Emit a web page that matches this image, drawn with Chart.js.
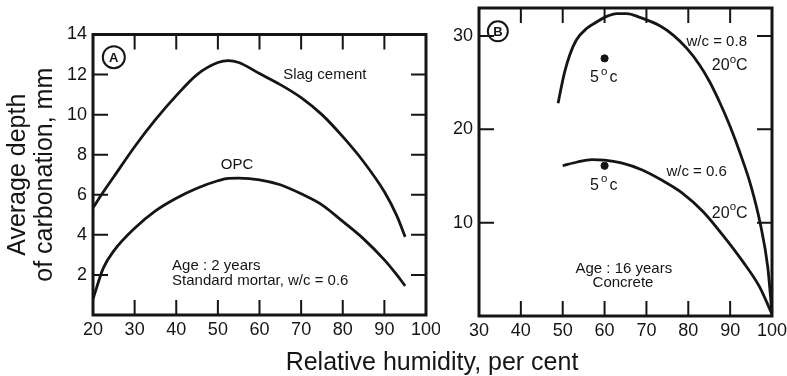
<!DOCTYPE html>
<html>
<head>
<meta charset="utf-8">
<title>Carbonation depth vs relative humidity</title>
<script src="https://cdn.jsdelivr.net/npm/chart.js@4.4.0/dist/chart.umd.min.js"></script>
<style>
  body { margin: 0; background: #fff; width: 787px; height: 376px; position: relative; overflow: hidden; }
  #wrapA { position: absolute; left: 0; top: 0; width: 440px; height: 376px; }
  #wrapB { position: absolute; left: 430px; top: 0; width: 357px; height: 376px; }
  #xtitle { position: absolute; left: 232px; width: 400px; top: 349px; line-height: 25px;
            text-align: center; font-size: 25px; font-family: 'Liberation Sans', Arial, sans-serif; color: #151515; }
</style>
</head>
<body>
<div id="wrapA"><canvas id="chartA" width="440" height="376"></canvas></div>
<div id="wrapB"><canvas id="chartB" width="357" height="376"></canvas></div>
<div id="xtitle">Relative humidity, per cent</div>
<script>
// Panel A - standard mortar, age 2 years
const humidityA = [20, 22.5, 25, 30, 35, 40, 45, 50, 52.5, 55, 60, 65, 70, 75, 80, 85, 90, 93, 95];
const slagDepth = [5.35, 6.15, 6.9, 8.4, 9.75, 10.95, 12.0, 12.6, 12.7, 12.6, 12.05, 11.5, 10.85, 10.0, 8.9, 7.65, 6.15, 4.95, 3.9];
const opcDepth = [0.8, 2.35, 3.2, 4.33, 5.2, 5.83, 6.33, 6.7, 6.82, 6.83, 6.75, 6.5, 6.05, 5.5, 4.67, 3.8, 2.75, 2.0, 1.45];

// Panel B - concrete, age 16 years
const humidityB08 = [48.9, 49.7, 50.5, 51.7, 53.3, 55.7, 58.1, 60.5, 62.9, 65.3, 68.4, 73.2, 76.4, 79.6, 82.7, 85.1, 87.5, 90, 92.5, 95, 97.2, 99.0, 100];
const depthB08 = [22.8, 24.6, 26.2, 28.0, 29.6, 30.8, 31.5, 32.1, 32.4, 32.4, 32.0, 31.1, 30.1, 28.7, 26.9, 25.1, 22.9, 20.3, 17.3, 13.9, 9.9, 5.2, 0.2];
const humidityB06 = [50, 53.5, 57, 60, 64, 69, 73.5, 78.5, 83.5, 88, 93, 97, 100];
const depthB06 = [16.1, 16.5, 16.75, 16.7, 16.4, 15.65, 14.6, 13.2, 11.2, 8.8, 5.85, 3.15, 0.2];
const humidity5C = [60, 60];
const depth5C = [27.6, 16.1];

// tick labels
const xTicksA = [20, 30, 40, 50, 60, 70, 80, 90, 100];
const yTicksA = [2, 4, 6, 8, 10, 12, 14];
const xTicksB = [30, 40, 50, 60, 70, 80, 90, 100];
const yTicksB = [10, 20, 30];

const ink = '#151515';
const family = "'Liberation Sans', Arial, sans-serif";

function points(xs, ys) {
  return xs.map((x, i) => ({ x: x, y: ys[i] }));
}

function curve(xs, ys) {
  return {
    data: points(xs, ys),
    showLine: true,
    borderColor: ink,
    borderWidth: 2.8,
    pointRadius: 0,
    cubicInterpolationMode: 'monotone',
    fill: false
  };
}

// box round the plot with inward ticks on all four sides
const framePlugin = {
  id: 'frame',
  afterDatasetsDraw(chart) {
    const { ctx, chartArea: a, scales: { x, y } } = chart;
    ctx.save();
    ctx.strokeStyle = ink;
    ctx.lineWidth = 2;
    ctx.beginPath();
    x.ticks.forEach(t => {
      const px = x.getPixelForValue(t.value);
      if (px <= a.left + 1 || px >= a.right - 1) return;
      ctx.moveTo(px, a.bottom); ctx.lineTo(px, a.bottom - 15);
      ctx.moveTo(px, a.top); ctx.lineTo(px, a.top + 15);
    });
    y.ticks.forEach(t => {
      const py = y.getPixelForValue(t.value);
      if (py <= a.top + 1 || py >= a.bottom - 1) return;
      ctx.moveTo(a.left, py); ctx.lineTo(a.left + 15, py);
      ctx.moveTo(a.right, py); ctx.lineTo(a.right - 15, py);
    });
    ctx.stroke();
    ctx.lineWidth = 3;
    ctx.strokeRect(a.left, a.top, a.right - a.left, a.bottom - a.top);
    ctx.restore();
  }
};

// text notes placed in data coordinates
function notesPlugin(items) {
  return {
    id: 'notes',
    afterDraw(chart) {
      const { ctx, scales: { x, y } } = chart;
      ctx.save();
      ctx.fillStyle = ink;
      ctx.strokeStyle = ink;
      ctx.textBaseline = 'middle';
      items.forEach(n => {
        const px = x.getPixelForValue(n.x);
        const py = y.getPixelForValue(n.y);
        if (n.circle) {
          ctx.lineWidth = 2;
          ctx.beginPath();
          ctx.arc(px, py, n.r, 0, Math.PI * 2);
          ctx.stroke();
          ctx.font = 'bold ' + n.size + 'px ' + family;
          ctx.textAlign = 'center';
          ctx.fillText(n.circle, px, py + 1);
          return;
        }
        const parts = n.parts || [{ t: n.text }];
        const gap = n.gap || 0;
        const widths = parts.map(p => {
          ctx.font = (p.sup ? n.size * 0.72 : n.size) + 'px ' + family;
          return ctx.measureText(p.t).width;
        });
        const total = widths.reduce((s, w) => s + w, 0) + gap * (parts.length - 1);
        let cx = n.align === 'left' ? px : px - total / 2;
        ctx.textAlign = 'left';
        parts.forEach((p, i) => {
          ctx.font = (p.sup ? n.size * 0.72 : n.size) + 'px ' + family;
          ctx.fillText(p.t, cx, p.sup ? py - n.size * 0.38 : py);
          cx += widths[i] + gap;
        });
      });
      ctx.restore();
    }
  };
}

const deg = (a, b) => [{ t: a }, { t: 'o', sup: true }, { t: b }];

const notesA = [
  { x: 25.0, y: 12.87, circle: 'A', r: 11, size: 13 },
  { x: 75.7, y: 12.0, text: 'Slag cement', size: 15 },
  { x: 54.6, y: 7.5, text: 'OPC', size: 15 },
  { x: 39.0, y: 2.45, text: 'Age : 2 years', size: 15, align: 'left' },
  { x: 39.0, y: 1.7, text: 'Standard mortar, w/c = 0.6', size: 15, align: 'left' }
];

const notesB = [
  { x: 34.5, y: 30.5, circle: 'B', r: 10, size: 13 },
  { x: 86.8, y: 29.4, text: 'w/c = 0.8', size: 15 },
  { x: 89.9, y: 26.8, parts: deg('20', 'C'), size: 16 },
  { x: 59.8, y: 25.5, parts: deg('5', 'c'), size: 16, gap: 2 },
  { x: 59.8, y: 14.0, parts: deg('5', 'c'), size: 16, gap: 2 },
  { x: 82.0, y: 15.4, text: 'w/c = 0.6', size: 15 },
  { x: 89.9, y: 11.0, parts: deg('20', 'C'), size: 16 },
  { x: 64.6, y: 5.1, text: 'Age : 16 years', size: 15 },
  { x: 64.4, y: 3.6, text: 'Concrete', size: 15 }
];

function scalesFor(xmin, xmax, xTicks, ymax, yTicks, yWidth, xHeight, yTitle) {
  const tickFont = { family: family, size: 18 };
  return {
    x: {
      type: 'linear', min: xmin, max: xmax,
      afterBuildTicks: s => { s.ticks = xTicks.map(v => ({ value: v })); },
      afterFit: s => { s.height = xHeight; s.paddingLeft = 0; s.paddingRight = 0; },
      grid: { display: false, drawTicks: false }, border: { display: false },
      ticks: { font: tickFont, color: ink, padding: 4.5, maxRotation: 0, autoSkip: false }
    },
    y: {
      type: 'linear', min: 0, max: ymax,
      afterBuildTicks: s => { s.ticks = yTicks.map(v => ({ value: v })); },
      afterFit: s => { s.width = yWidth; s.paddingTop = 0; s.paddingBottom = 0; },
      grid: { display: false, drawTicks: false }, border: { display: false },
      ticks: { font: tickFont, color: ink, padding: 6, autoSkip: false },
      title: yTitle ? {
        display: true, text: yTitle, color: ink,
        font: { family: family, size: 25, lineHeight: 1.07 },
        padding: { top: 4.5, bottom: 0 }
      } : { display: false }
    }
  };
}

new Chart(document.getElementById('chartA'), {
  type: 'scatter',
  data: {
    datasets: [curve(humidityA, slagDepth), curve(humidityA, opcDepth)]
  },
  options: {
    responsive: false,
    animation: false,
    layout: { padding: { left: 0, right: 14, top: 34.5, bottom: 0 } },
    plugins: { legend: { display: false }, tooltip: { enabled: false } },
    scales: scalesFor(20, 100, xTicksA, 14, yTicksA, 93, 61, ['Average depth', 'of carbonation, mm'])
  },
  plugins: [framePlugin, notesPlugin(notesA)]
});

new Chart(document.getElementById('chartB'), {
  type: 'scatter',
  data: {
    datasets: [
      curve(humidityB08, depthB08),
      curve(humidityB06, depthB06),
      {
        data: points(humidity5C, depth5C),
        pointRadius: 3.6,
        pointBackgroundColor: ink,
        pointBorderColor: ink,
        showLine: false
      }
    ]
  },
  options: {
    responsive: false,
    animation: false,
    layout: { padding: { left: 0, right: 15, top: 8, bottom: 0 } },
    plugins: { legend: { display: false }, tooltip: { enabled: false } },
    scales: scalesFor(30, 100, xTicksB, 33, yTicksB, 49, 60, null)
  },
  plugins: [framePlugin, notesPlugin(notesB)]
});
</script>
</body>
</html>
